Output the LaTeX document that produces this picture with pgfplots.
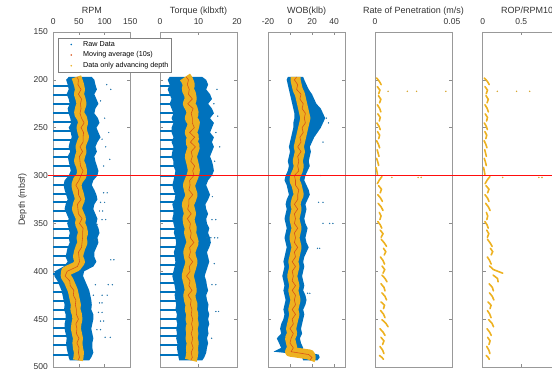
\documentclass[border=0pt]{standalone}
\usepackage{pgfplots}
\pgfplotsset{compat=1.18}
\usepackage{pgfplotstable}
\usepackage{fontspec}
\setmainfont{Liberation Sans}
\definecolor{mblue}{RGB}{0,114,189}
\definecolor{morange}{RGB}{217,83,25}
\definecolor{myellow}{RGB}{237,177,32}
\definecolor{lineRed}{rgb}{1,0.05,0.05}

% ---------- RPM: raw-data envelope (left edge down, right edge up)
\pgfplotstableread{
x y
30 197
25 200
28 205
30 210
26 215
30 220
32 225
28 230
30 235
33 240
35 245
30 250
34 255
36 260
32 265
30 270
33 275
28 280
30 285
32 290
34 295
30 300
22 305
20 310
22 315
25 320
28 325
24 330
22 335
26 340
30 345
27 350
30 355
32 360
30 365
32 370
28 375
26 380
24 385
28 390
20 395
3 400
2 405
8 410
12 415
16 420
18 425
20 430
22 435
21 440
24 445
24 450
22 455
22 460
24 465
26 470
25 475
26 480
28 485
30 490
32 493
70 493
74 490
78 485
76 480
76 475
78 470
76 465
74 460
76 455
78 450
78 445
74 440
75 435
74 430
72 425
70 420
66 415
62 410
58 405
60 400
78 395
84 390
80 385
80 380
84 375
88 370
86 365
90 360
88 355
84 350
86 345
82 340
78 335
80 330
86 325
84 320
80 315
75 310
78 305
86 300
88 295
85 290
82 285
80 280
85 275
82 270
86 265
92 260
88 255
84 250
90 245
87 240
80 235
82 230
88 225
84 220
80 215
85 210
82 205
80 200
75 197
}\rpmband
% depth, advancing-depth centre, moving average
\pgfplotstableread{
d c m
197 45 46
200 47 49
205 50 48
210 52 54
215 50 49
220 53 55
225 55 53
230 52 54
235 50 52
240 56 55
245 58 60
250 55 54
255 57 59
260 60 58
265 56 58
270 53 52
275 55 57
280 52 51
285 50 52
290 54 53
295 56 58
300 55 54
305 48 50
310 45 44
315 47 49
320 50 49
325 52 54
330 48 47
335 46 48
340 50 49
345 54 56
350 52 51
355 56 58
360 58 57
365 55 57
370 57 56
375 53 55
380 50 49
385 48 50
390 52 51
395 45 47
400 25 27
405 24 23
410 30 32
415 34 33
420 38 40
425 40 39
430 42 44
435 44 43
440 43 45
445 46 45
450 47 49
455 45 44
460 44 46
465 46 45
470 48 50
475 47 46
480 48 50
485 50 49
490 49 51
493 48 48
}\rpmline

% ---------- Torque
\pgfplotstableread{
x y
2.5 197
2 200
2.5 205
2 210
2.5 215
3 220
2.5 225
3 230
3.5 235
3 240
3.5 245
3 250
3 255
3.5 260
3 265
3.5 270
3.2 275
3 280
3.5 285
3.5 290
4 295
3.8 300
3.5 305
3.2 310
3.5 315
4 320
3.8 325
3.2 330
3.5 335
3.5 340
3.2 345
3.5 350
3.8 355
3.6 360
4 365
4.2 370
4 375
3.6 380
3.8 385
4 390
3.8 395
3.5 400
3.2 405
3.5 410
3.8 415
4 420
3.8 425
4 430
4.2 435
4 440
4.4 445
4.2 450
4.5 455
4.2 460
4.4 465
4.2 470
4.5 475
4.4 480
4.6 485
4.8 490
5 493
11 493
11.5 490
12 485
12.2 480
12.5 475
12.2 470
12.6 465
12.4 460
12.8 455
12.5 450
12.8 445
12.4 440
12.6 435
12.2 430
12 425
12.5 420
12.2 415
12 410
11.6 405
12 400
12.4 395
12.8 390
12.5 385
12.2 380
12.8 375
13.2 370
13 365
12.5 360
12.8 355
12.2 350
12 345
12.5 340
12 335
11.8 330
12.5 325
13 320
12.5 315
12 310
12.5 305
13.5 300
14 295
13.8 290
13.5 285
13 280
13.5 275
14 270
13.5 265
14 260
13 255
13.5 250
14 245
13 240
14 235
13.5 230
12.5 225
13.5 220
13 215
12 210
12.5 205
12 200
11 197
}\torqueband
\pgfplotstableread{
d c m
197 6.5 6.8
200 7.0 7.4
205 7.5 7.1
210 7.2 7.6
215 7.8 7.4
220 8.0 8.4
225 7.5 7.2
230 8.2 8.6
235 8.5 8.1
240 8.0 8.4
245 8.8 8.4
250 8.5 8.9
255 8.0 7.7
260 8.6 9.0
265 8.2 7.9
270 8.8 9.2
275 8.4 8.1
280 8.0 8.4
285 8.3 8.0
290 8.6 9.0
295 8.8 8.5
300 8.5 8.8
305 8.0 7.7
310 7.5 7.8
315 7.8 7.5
320 8.2 8.5
325 7.8 7.5
330 7.2 7.5
335 7.5 7.2
340 7.8 8.1
345 7.4 7.1
350 7.6 7.9
355 8.0 7.7
360 7.8 8.1
365 8.2 7.9
370 8.5 8.8
375 8.0 7.7
380 7.6 7.9
385 7.8 7.5
390 8.2 8.5
395 7.9 7.6
400 7.5 7.8
405 7.2 6.9
410 7.5 7.8
415 7.8 7.5
420 8.0 8.3
425 7.6 7.3
430 7.8 8.1
435 8.2 7.9
440 8.0 8.3
445 8.4 8.1
450 8.2 8.5
455 8.5 8.2
460 8.2 8.5
465 8.4 8.1
470 8.2 8.5
475 8.5 8.2
480 8.3 8.6
485 8.4 8.1
490 8.2 8.4
493 8.0 8.0
}\torqueline

% ---------- WOB
\pgfplotstableread{
x y
-2 197
-3 200
-2 205
-1 210
0 215
1 220
2 225
3 230
4 235
4 240
3 245
3 250
2 255
1 260
0 265
-1 270
0 275
-1 280
-2 285
-1 290
-2 295
-4 300
-5 305
-3 310
-2 315
-1 320
-3 325
-4 330
-3 335
-4 340
-5 345
-4 350
-3 355
-4 360
-5 365
-4 370
-3 375
-4 380
-5 385
-6 390
-5 395
-6 400
-7 405
-6 410
-5 415
-6 420
-5 425
-4 430
-5 435
-6 440
-5 445
-6 450
-8 455
-9 460
-8 465
-12 470
-10 475
-8 480
-15 484
10 487
11 490
12 493
25 493
27 490
26 487
12 484
12 480
10 475
9 470
11 465
10 460
11 455
12 450
13 445
12 440
14 435
15 430
14 425
12 420
13 415
12 410
11 405
12 400
13 395
12 390
13 385
15 380
17 375
15 370
14 365
15 360
16 355
14 350
13 345
14 340
15 335
14 330
16 325
18 320
17 315
15 310
13 305
14 300
16 295
18 290
17 285
18 280
19 275
18 270
20 265
22 260
25 255
28 250
30 245
32 240
30 235
28 230
24 225
22 220
20 215
17 210
15 205
13 200
12 197
}\wobband
\pgfplotstableread{
d c m
197 5 6
200 5 4
205 6 7
210 7 6
215 9 10
220 10 9
225 11 12
230 12 11
235 13 14
240 14 13
245 13 14
250 12 11
255 11 12
260 10 9
265 9 10
270 8 7
275 9 10
280 8 7
285 7 8
290 8 7
295 7 8
300 5 4
305 4 5
310 6 5
315 7 8
320 8 7
325 6 7
330 5 4
335 6 7
340 5 4
345 4 5
350 5 4
355 6 7
360 5 4
365 4 5
370 5 4
375 6 7
380 5 4
385 4 5
390 3 2
395 4 5
400 3 2
405 2 3
410 3 2
415 4 5
420 3 2
425 4 5
430 5 4
435 4 5
440 3 2
445 4 5
450 3 2
455 2 3
460 1 0
465 2 3
470 0 1
475 1 0
480 2 3
484 0 1
487 18 17
490 19 20
493 18 18
}\wobline

% ROP while advancing depth: one short run per stand, separated by nan
\pgfplotstableread{
x y
0.0010 198
0.0028 201.5
0.0040 205
nan nan
0.0015 207
0.0032 210.75
0.0024 214.5
nan nan
0.0022 216.5
0.0038 220.25
0.0030 224
nan nan
0.0015 226
0.0030 229.75
0.0038 233.5
nan nan
0.0018 235.5
0.0034 239.25
0.0028 243
nan nan
0.0012 245
0.0026 248.5
0.0034 252
nan nan
0.0016 254
0.0030 257.75
0.0024 261.5
nan nan
0.0010 263.5
0.0022 267.25
0.0030 271
nan nan
0.0014 273
0.0020 276.5
0.0026 280
nan nan
0.0010 282
0.0018 285.75
0.0024 289.5
nan nan
0.0006 291.5
0.0012 295.25
0.0016 299
nan nan
0.0045 301
0.0028 304.75
0.0015 308.5
nan nan
0.0023 310.5
0.0042 314.25
0.0034 318
nan nan
0.0018 320
0.0036 323.5
0.0048 327
nan nan
0.0020 329
0.0040 332.75
0.0052 336.5
nan nan
0.0028 338.5
0.0039 342.25
0.0032 346
nan nan
0.0018 348
0.0034 351.5
0.0044 355
nan nan
0.0034 357
0.0052 360.75
0.0040 364.5
nan nan
0.0040 366.5
0.0060 370.25
0.0075 374
nan nan
0.0055 376
0.0070 379.5
0.0060 383
nan nan
0.0035 385
0.0052 388.75
0.0062 392.5
nan nan
0.0046 394.5
0.0063 398.25
0.0052 402
nan nan
0.0045 404
0.0065 407.5
0.0078 411
nan nan
0.0039 413
0.0058 416.75
0.0065 420.5
nan nan
0.0045 422.5
0.0065 426.25
0.0075 430
nan nan
0.0039 432
0.0062 435.5
0.0055 439
nan nan
0.0036 441
0.0055 444.75
0.0065 448.5
nan nan
0.0045 450.5
0.0070 454.25
0.0085 458
nan nan
0.0032 460
0.0052 463.5
0.0065 467
nan nan
0.0039 469
0.0058 472.75
0.0049 476.5
nan nan
0.0032 478.5
0.0049 482.25
0.0058 486
nan nan
0.0029 488
0.0045 490
0.0055 492
}\ropdata

\pgfplotstableread{
x y
0.021 198
0.060 201.5
0.085 205
nan nan
0.029 207
0.062 210.75
0.046 214.5
nan nan
0.042 216.5
0.072 220.25
0.057 224
nan nan
0.029 226
0.058 229.75
0.073 233.5
nan nan
0.033 235.5
0.062 239.25
0.051 243
nan nan
0.021 245
0.046 248.5
0.061 252
nan nan
0.028 254
0.052 257.75
0.041 261.5
nan nan
0.018 263.5
0.040 267.25
0.055 271
nan nan
0.026 273
0.037 276.5
0.048 280
nan nan
0.020 282
0.035 285.75
0.047 289.5
nan nan
0.011 291.5
0.021 295.25
0.029 299
nan nan
0.094 301
0.058 304.75
0.031 308.5
nan nan
0.043 310.5
0.081 314.25
0.064 318
nan nan
0.029 320
0.063 323.5
0.082 327
nan nan
0.038 329
0.074 332.75
0.096 336.5
nan nan
0.048 338.5
0.065 342.25
0.054 346
nan nan
0.028 348
0.057 351.5
0.072 355
nan nan
0.053 357
0.079 360.75
0.061 364.5
nan nan
0.061 366.5
0.096 370.25
0.123 374
nan nan
0.100 376
0.130 379.5
0.110 383
nan nan
0.060 385
0.090 388.75
0.110 392.5
nan nan
0.089 394.5
0.140 398.25
0.260 402
nan nan
0.135 404
0.192 407.5
0.200 411
nan nan
0.083 413
0.125 416.75
0.139 420.5
nan nan
0.088 422.5
0.125 426.25
0.145 430
nan nan
0.068 432
0.109 435.5
0.095 439
nan nan
0.061 441
0.091 444.75
0.109 448.5
nan nan
0.076 450.5
0.120 454.25
0.141 458
nan nan
0.056 460
0.089 463.5
0.111 467
nan nan
0.064 469
0.096 472.75
0.081 476.5
nan nan
0.052 478.5
0.079 482.25
0.094 486
nan nan
0.045 488
0.071 490
0.086 492
}\roprpmdata

\pgfplotsset{
  panel/.style={
    scale only axis, width=77pt, height=335pt, anchor=south west,
    y dir=reverse, ymin=150, ymax=500,
    ytick={150,200,250,300,350,400,450,500}, yticklabels={},
    xticklabel pos=upper,
    tick align=inside, major tick length=3pt,
    axis line style={draw=black!40, line width=0.6pt},
    every tick/.style={draw=black!45, line width=0.5pt},
    tick label style={font=\fontsize{8.5}{10}\selectfont, text=black!80},
    xticklabel style={anchor=base, yshift=7.7pt},
    title style={font=\fontsize{9}{10}\selectfont, text=black!80, at={(0.5,1)}, anchor=base, yshift=12.6pt},
    scaled x ticks=false,
  },
  bandfill/.style={fill=mblue, draw=none, forget plot},
  streak/.style={xcomb, mblue, line width=2pt, forget plot},
  outl/.style={only marks, mark=*, mark size=0.45pt, mblue!70!gray, forget plot},
}

\begin{document}
\begin{tikzpicture}
\path[use as bounding box] (0,0) rectangle (552pt,371pt);

% ---------------- Torque
\begin{axis}[panel, at={(160pt,4pt)}, xmin=0, xmax=20,
  xtick={0,10,20}, xticklabels={0,10,20}, title={Torque (klbxft)}]
\addplot[bandfill] table[x=x,y=y]{\torqueband} -- cycle;
\addplot[streak] coordinates {(3.5,206) (3.5,215.5) (3.5,225) (4.5,234.5) (4.5,244) (4,253) (4.5,262.5) (4.5,272) (4,281) (4.5,290.5) (4.8,300) (4.2,309.5) (5,319) (4.5,328) (4.5,337.5) (4.5,347) (4.8,356) (5,365.5) (5,375) (4.8,384) (4.8,393.5) (4.4,403) (4.6,412) (4.8,421.5) (5,431) (5,440) (5.2,449.5) (5.2,459) (5.2,468) (5.4,477.5) (5.6,487)};
\addplot[outl] coordinates {(13.5,346) (14.5,346) (12.2,365) (13.2,365) (14.2,365) (15,365) (13.5,414) (14.5,414) (14.5,442) (15.2,442) (14,225) (15,238) (14.5,255) (15.5,270) (14.2,285) (13.8,300) (14.8,210) (13.6,322) (14.1,392) (13.4,470)};
\addplot[myellow, line width=12pt, line join=round, forget plot] table[x=c,y=d]{\torqueline};
\addplot[morange, line width=0.6pt, forget plot] table[x=m,y=d]{\torqueline};
\end{axis}

% ---------------- WOB
\begin{axis}[panel, at={(268pt,4pt)}, xmin=-20, xmax=50,
  xtick={-20,0,20,40}, xticklabels={-20,0,20,40}, title={WOB(klb)}]
\addplot[bandfill] table[x=x,y=y]{\wobband} -- cycle;
\addplot[outl] coordinates {(30,350) (36,350) (39,350) (25,376) (27,376) (26,328) (30,328) (16,423) (18,423) (35,245) (30,265) (33,240) (28,300)};
\addplot[myellow, line width=10pt, line join=round, forget plot] table[x=c,y=d]{\wobline};
\addplot[morange, line width=0.6pt, forget plot] table[x=m,y=d]{\wobline};
\end{axis}

% ---------------- ROP
\begin{axis}[panel, at={(375pt,4pt)}, xmin=0, xmax=0.05,
  xtick={0,0.05}, xticklabels={0,0.05}, title={Rate of Penetration (m/s)}]
\addplot[myellow, line width=1.6pt, line cap=round, unbounded coords=jump, forget plot] table[x=x,y=y]{\ropdata};
\addplot[only marks, mark=*, mark size=0.5pt, myellow!80!gray, forget plot] coordinates {(0.0085,212) (0.021,212) (0.027,212) (0.046,212) (0.011,302) (0.028,302) (0.030,302)};
\end{axis}

% ---------------- ROP/RPM
\begin{axis}[panel, at={(482.7pt,4pt)}, xmin=0, xmax=1,
  xtick={0,0.5,1}, xticklabels={0,0.5,1}, title={ROP/RPM1000},
  title style={at={(0,1)}, anchor=base west, xshift=15pt}]
\addplot[myellow, line width=1.6pt, line cap=round, unbounded coords=jump, forget plot] table[x=x,y=y]{\roprpmdata};
\addplot[only marks, mark=*, mark size=0.5pt, myellow!80!gray, forget plot] coordinates {(0.19,212) (0.44,212) (0.61,212) (0.26,302) (0.73,302) (0.77,302)};
\end{axis}

% ---------------- RPM (drawn last so its legend and the 300 m line lie on top)
\begin{axis}[panel, at={(53.3pt,4pt)}, xmin=0, xmax=150, clip=false,
  xtick={0,50,100,150}, xticklabels={0,50,100,150}, title={RPM},
  yticklabels={150,200,250,300,350,400,450,500},
  yticklabel style={xshift=-2pt},
  ylabel={Depth (mbsf)}, ylabel style={font=\fontsize{9}{10}\selectfont, text=black!80},
  legend style={at={(0.061,0.982)}, anchor=north west, draw=black!50,
    fill=white, font=\fontsize{7.2}{8}\selectfont, inner sep=1pt, row sep=0pt},
  legend cell align=left,
  legend image code/.code={\path[draw=none, fill=none] (0pt,-2pt) rectangle (22pt,2pt); \fill[#1, draw=none] (12pt,0pt) circle (0.9pt);}]
\addlegendimage{mblue}
\addlegendentry{Raw Data}
\addlegendimage{morange}
\addlegendentry{Moving average (10s)}
\addlegendimage{myellow}
\addlegendentry{Data only advancing depth}
\addplot[bandfill] table[x=x,y=y]{\rpmband} -- cycle;
\addplot[streak] coordinates {(32,206) (30,215.5) (36,225) (34,234.5) (39,244) (37,253) (38,262.5) (34,272) (32,281) (36,290.5) (34,300) (24,309.5) (29,319) (28,328) (28,337.5) (33,347) (34,356) (34,365.5) (32,375) (28,384) (26,393.5) (8,403) (14,412) (21,421.5) (24,431) (25,440) (28,449.5) (26,459) (28,468) (30,477.5) (32,487)};
\addplot[outl] coordinates {(82,414) (107,414) (115,414) (78,425) (95,425) (105,425) (90,433) (95,433) (88,443) (95,443) (92,452) (98,452) (85,461) (92,461) (101,469) (111,469) (98,318) (105,318) (92,328) (100,328) (90,337) (96,337) (95,346) (102,346) (85,351) (112,388) (118,388) (100,240) (108,255) (95,262) (102,270) (110,283) (98,290) (104,205) (112,210) (92,222) (80,367) (86,367)};
\addplot[myellow, line width=10pt, line join=round, forget plot] table[x=c,y=d]{\rpmline};
\addplot[morange, line width=0.6pt, forget plot] table[x=m,y=d]{\rpmline};
\addplot[lineRed, line width=1.6pt, forget plot] coordinates {(-10,300) (971,300)};
\end{axis}
\end{tikzpicture}
\end{document}
